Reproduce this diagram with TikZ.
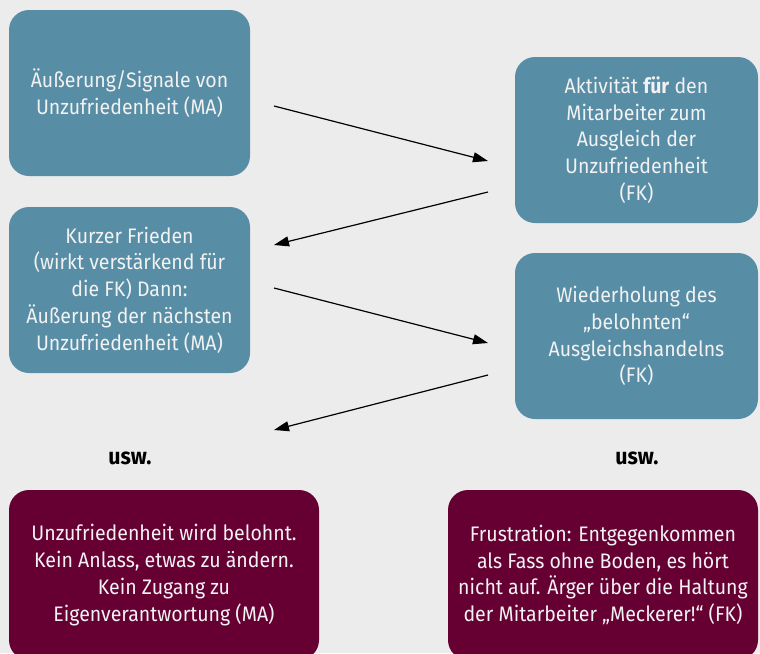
\documentclass[tikz,border=0pt]{standalone}
\usepackage{fontspec}
\setmainfont{Fira Sans}[FakeStretch=0.93]
\usetikzlibrary{arrows.meta}
\definecolor{bgc}{RGB}{236,236,236}
\definecolor{bluebox}{RGB}{88,141,166}
\definecolor{redbox}{RGB}{102,0,51}
\definecolor{boxtext}{RGB}{242,242,242}
\begin{document}
\begin{tikzpicture}[x=1pt,y=-1pt,
  bbox/.style={rounded corners=20pt, align=center, text=boxtext, inner sep=0pt,
    font=\fontsize{21}{26.7}\selectfont},
  bluebox/.style={bbox, fill=bluebox},
  redbox/.style={bbox, fill=redbox},
  conn/.style={draw=black, line width=1.2pt, -{Triangle[length=15pt,width=10pt]}},
  lbl/.style={font=\fontsize{23}{26}\selectfont\bfseries, text=black}]
\useasboundingbox (0,0) rectangle (760,653);
\fill[bgc] (0,0) rectangle (760,653);
\begin{scope}
\clip (0,0) rectangle (760,653);
\node[bluebox, minimum width=241pt, minimum height=166pt] (b1) at (129.5,93)
  {Äußerung/Signale von\\Unzufriedenheit (MA)};
\node[bluebox, minimum width=243pt, minimum height=166pt] (b2) at (636.5,140)
  {Aktivität \textbf{für} den\\Mitarbeiter zum\\Ausgleich der\\Unzufriedenheit\\(FK)};
\node[bluebox, minimum width=241pt, minimum height=166pt] (b3) at (129.5,290)
  {Kurzer Frieden\\(wirkt verstärkend für\\die FK) Dann:\\Äußerung der nächsten\\Unzufriedenheit (MA)};
\node[bluebox, minimum width=243pt, minimum height=166pt] (b4) at (636.5,336)
  {Wiederholung des\\„belohnten“\\Ausgleichshandelns\\(FK)};
\node[redbox, minimum width=310pt, minimum height=170pt] (b5) at (164,575)
  {Unzufriedenheit wird belohnt.\\Kein Anlass, etwas zu ändern.\\Kein Zugang zu\\Eigenverantwortung (MA)};
\node[redbox, minimum width=310pt, minimum height=170pt] (b6) at (603,575)
  {Frustration: Entgegenkommen\\als Fass ohne Boden, es hört\\nicht auf. Ärger über die Haltung\\der Mitarbeiter „Meckerer!“ (FK)};
\end{scope}
\node[lbl] (u1) at (130,458) {usw.};
\node[lbl] (u2) at (637,458) {usw.};
\coordinate (a1s) at (274,106);
\coordinate (a1e) at (488,161);
\coordinate (a2s) at (488,192);
\coordinate (a2e) at (274,245);
\coordinate (a3s) at (274,288);
\coordinate (a3e) at (488,343);
\coordinate (a4s) at (488,375);
\coordinate (a4e) at (274,430);
\draw[conn] (a1s) -- (a1e);
\draw[conn] (a2s) -- (a2e);
\draw[conn] (a3s) -- (a3e);
\draw[conn] (a4s) -- (a4e);
\end{tikzpicture}
\end{document}
